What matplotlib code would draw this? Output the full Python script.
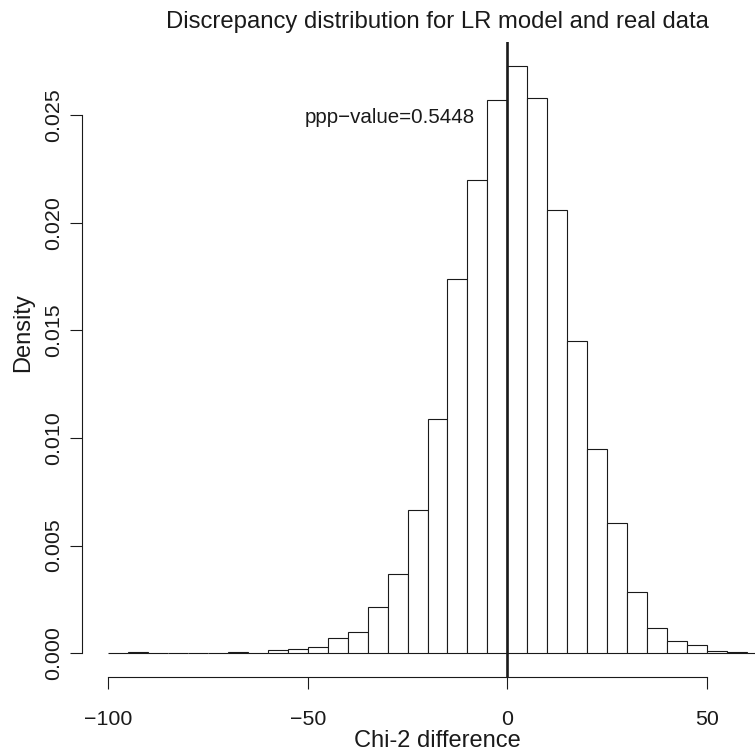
import numpy as np
import matplotlib
matplotlib.use("Agg")
import matplotlib.pyplot as plt

plt.rcParams['font.family'] = ['Liberation Sans', 'DejaVu Sans']

# ===============================
# DATA
# ===============================
# histogram bins of width 5, from -100 to 65
bin_edges = list(range(-100, 70, 5))
density = [
    0.00002, 0.00004, 0.0, 0.0, 0.0, 0.00002, 0.00005, 0.00003,   # -100 .. -65
    0.00015, 0.0002, 0.0003, 0.0007, 0.0010, 0.00215, 0.00366,    # -60 .. -30
    0.00663, 0.0109, 0.01738, 0.02197, 0.02572,                   # -25 .. -5
    0.0273, 0.02577, 0.0206, 0.0145, 0.0095, 0.00607,             # 0 .. 25
    0.00283, 0.00118, 0.00057, 0.00039, 0.00012, 0.00006, 0.00002  # 30 .. 60
]
x_ticks = [-100, -50, 0, 50]
y_ticks = [0.000, 0.005, 0.010, 0.015, 0.020, 0.025]
y_tick_labels = ["0.000", "0.005", "0.010", "0.015", "0.020", "0.025"]
ppp_value = 0.5448

# ===============================
# PLOT
# ===============================
fig = plt.figure(figsize=(7.55, 7.56), dpi=100)
ax = fig.add_axes([0.1086, 0.1049, 0.9417, 0.8395])

lefts = np.array(bin_edges[:-1])
ax.bar(lefts, density, width=5, align="edge",
       facecolor="white", edgecolor="#1a1a1a", linewidth=0.8)

# R-like plot region: 4% padding around data range
x0, x1 = bin_edges[0], bin_edges[-1]
ymax = max(density)
ax.set_xlim(x0 - 0.04 * (x1 - x0), x1 + 0.04 * (x1 - x0))
ax.set_ylim(-0.04 * ymax, ymax * 1.04)

ax.axvline(0, color="#1a1a1a", linewidth=1.9)
ax.text(-29.5, 0.0249, "ppp\u2212value=%.4f" % ppp_value,
        ha="center", va="center", fontsize=14.8, color="#1a1a1a")

# R style axes
for s in ["top", "right"]:
    ax.spines[s].set_visible(False)
ax.spines["left"].set_bounds(y_ticks[0], y_ticks[-1])
ax.spines["bottom"].set_bounds(x_ticks[0], x_ticks[-1])
for s in ["left", "bottom"]:
    ax.spines[s].set_linewidth(0.8)
    ax.spines[s].set_color("#1a1a1a")

ax.set_xticks(x_ticks)
ax.set_xticklabels(["\u2212100", "\u221250", "0", "50"])
ax.set_yticks(y_ticks)
ax.set_yticklabels(y_tick_labels, rotation=90, va="center")
ax.tick_params(axis="both", direction="out", length=8.3, width=0.8,
               color="#1a1a1a", labelsize=15.4, labelcolor="#1a1a1a")
ax.tick_params(axis="x", pad=16)
ax.tick_params(axis="y", pad=5)

fig.text(437 / 755, 1 - 22 / 756, "Discrepancy distribution for LR model and real data",
         ha="center", va="center", fontsize=17.2, color="#1a1a1a")
fig.text(437 / 755, 1 - 741 / 756, "Chi-2 difference",
         ha="center", va="center", fontsize=17, color="#1a1a1a")
fig.text(23 / 755, 1 - 333 / 756, "Density", rotation=90,
         ha="center", va="center", fontsize=17, color="#1a1a1a")

plt.savefig("out.png", dpi=100)
